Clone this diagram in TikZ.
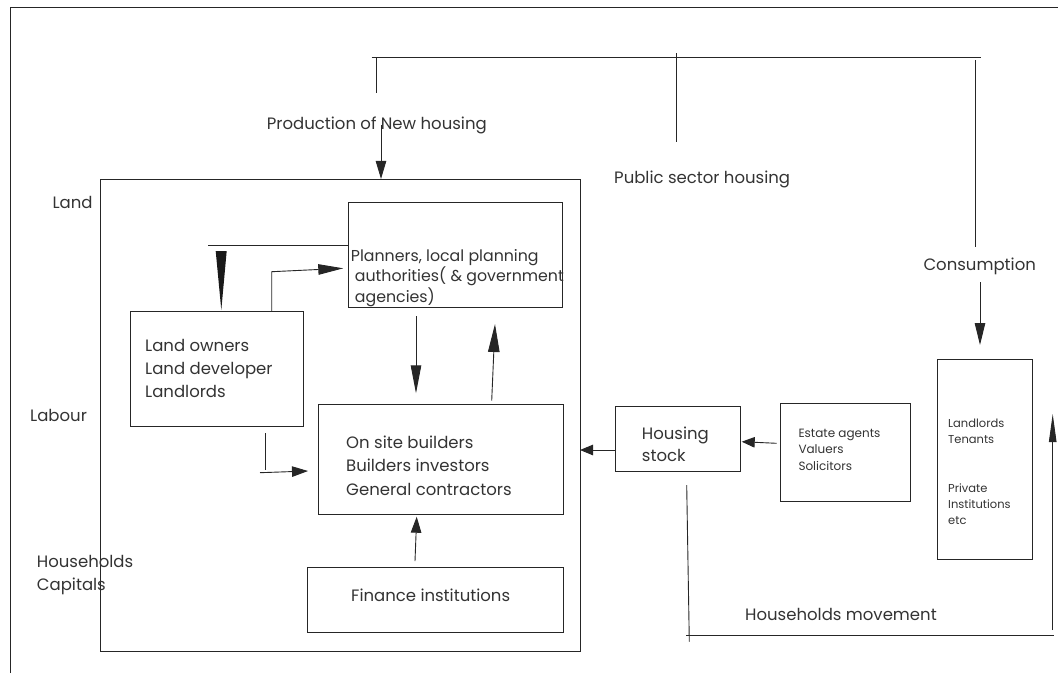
\documentclass[tikz,border=0pt]{standalone}
\usepackage{fontspec}
\setmainfont{Poppins}
\usetikzlibrary{arrows.meta}

\begin{document}
\begin{tikzpicture}[
  x=1pt, y=-1pt,
  ink/.style={draw=black!85, line width=0.9pt},
  box/.style={ink, rectangle, inner sep=0pt, outer sep=0pt},
  arr/.style={ink, -{Triangle[length=#1, width=10.5pt]}},
  arr/.default=20pt,
  % multi-line labels are placed by the baseline of their last line
  txt/.style={inner sep=0pt, anchor=base west, align=left, text=black!80,
              font=\fontsize{16.5}{22.5}\selectfont},
  small/.style={txt, font=\fontsize{12}{16.3}\selectfont}
]
\useasboundingbox (0,0) rectangle (1058,673);

% outer frame
\draw[ink] (10,673) -- (10,7.3) -- (1058,7.3);

% boxes
\node[box, minimum width=480pt,   minimum height=472.7pt] (big)    at (340,415.3)    {};
\node[box, minimum width=214.4pt, minimum height=105pt]   (plan)   at (455.5,255.2)  {};
\node[box, minimum width=173pt,   minimum height=115pt]   (land)   at (216.5,369.2)  {};
\node[box, minimum width=245pt,   minimum height=109.7pt] (site)   at (440.8,459.15) {};
\node[box, minimum width=256pt,   minimum height=65pt]    (fin)    at (435.3,599.5)  {};
\node[box, minimum width=125pt,   minimum height=64.3pt]  (stock)  at (678.2,438.85) {};
\node[box, minimum width=129.3pt, minimum height=97.7pt]  (estate) at (845.35,452.15){};
\node[box, minimum width=95pt,    minimum height=200pt]   (users)  at (984.5,459)    {};

% free labels
\node[txt] (prod)   at (266.7,129.3) {Production of New housing};
\node[txt] (public) at (614,183.3)   {Public sector housing};
\node[txt] (cons)   at (923.3,270)   {Consumption};
\node[txt] (landf)  at (52.3,208.3)  {Land};
\node[txt] (labour) at (30,421.7)    {Labour};
\node[txt, font=\fontsize{16.5}{23}\selectfont] (capit) at (36.7,590) {Households\\Capitals};
\node[txt] (hmove)  at (745,620.7)   {Households movement};

% box texts
\node[txt, font=\fontsize{15.8}{20.2}\selectfont] (plantx) at (350.7,302)
  {Planners, local planning\\\hspace*{4pt}authorities( \& government\\\hspace*{4pt}agencies)};
\node[txt, font=\fontsize{16.5}{22.7}\selectfont] (landtx) at (145,397)
  {Land owners\\Land developer\\Landlords};
\node[txt, font=\fontsize{16.5}{23.3}\selectfont] (sitetx) at (346,495)
  {On site builders\\Builders investors\\General contractors};
\node[txt] (fintx) at (351,601.7) {Finance institutions};
\node[txt, font=\fontsize{16.5}{22.4}\selectfont] (stocktx) at (641.7,461.7) {Housing\\stock};
\node[small] (esttx) at (798.3,470) {Estate agents\\Valuers\\Solicitors};
\node[small, font=\fontsize{11.5}{16}\selectfont] (usr1) at (948,443) {Landlords\\Tenants};
\node[small, font=\fontsize{11.5}{16}\selectfont] (usr2) at (948,524) {Private\\Institutions\\etc};

% top bracket of the three housing sectors
\coordinate (tl)  at (371.7,57.3);
\coordinate (tr)  at (981,57.3);
\coordinate (b1t) at (376.7,57.3);
\coordinate (b1b) at (376.7,93.3);
\coordinate (b2t) at (676.7,53.3);
\coordinate (b2b) at (676.7,142.3);
\coordinate (b3t) at (975.7,60);
\coordinate (b3b) at (975.7,246.7);
\draw[ink] (tl) -- (tr);
\draw[ink] (b1t) -- (b1b);
\draw[ink] (b2t) -- (b2b);
\draw[ink] (b3t) -- (b3b);

% production into the system
\coordinate (p1) at (381,125);
\draw[arr=18pt] (p1) -- (p1 |- big.north);

% consumption down to the users
\coordinate (c1) at (980,282.3);
\coordinate (c2) at (980,345);
\draw[arr=22pt] (c1) -- (c2);

% planners to land owners
\coordinate (g1) at (208.3,245);
\draw[ink] (g1) -- (g1 -| plan.west);
\coordinate (w1) at (215.7,251);
\coordinate (w2) at (226.7,251);
\coordinate (w3) at (221.3,310);
\fill[black!90] (w1) -- (w2) -- (w3) -- cycle;

% land owners to planners
\coordinate (l1) at (271.7,271.7);
\coordinate (l2) at (343.3,268.3);
\draw[arr=25pt] (l1 |- land.north) -- (l1) -- (l2);

% planners <-> builders
\coordinate (d1) at (416,316);
\coordinate (d2) at (416,393.3);
\draw[arr=28pt] (d1) -- (d2);
\coordinate (u1) at (491.7,400.7);
\coordinate (u2) at (495,324);
\draw[ink, -{Triangle[length=28pt,width=11.5pt]}] (u1) -- (u2);

% land owners to builders
\coordinate (m1) at (265.7,433);
\coordinate (m2) at (265.7,470);
\draw[ink] (m1) -- (m2);
\coordinate (m3) at (260,472.7);
\coordinate (m4) at (308,471);
\draw[arr=16pt] (m3) -- (m4);

% finance to builders
\coordinate (f1) at (415,561);
\coordinate (f2) at (416.7,516.7);
\draw[arr=16pt] (f1) -- (f2);

% housing stock and agents
\coordinate (s1) at (616,450);
\draw[arr=13pt] (s1) -- (s1 -| big.east);
\coordinate (e1) at (776.7,443.3);
\coordinate (e2) at (741.7,441.7);
\draw[arr=13pt] (e1) -- (e2);

% households movement loop
\coordinate (h1) at (686.7,485);
\coordinate (h2) at (689.3,641.7);
\draw[ink] (h1) -- (h2);
\coordinate (h3) at (686,635);
\coordinate (h4) at (1054,635);
\draw[ink] (h3) -- (h4);
\coordinate (h5) at (1052.7,630);
\coordinate (h6) at (1052.7,414);
\draw[ink, -{Triangle[length=28pt,width=7.5pt]}] (h5) -- (h6);
\end{tikzpicture}
\end{document}
